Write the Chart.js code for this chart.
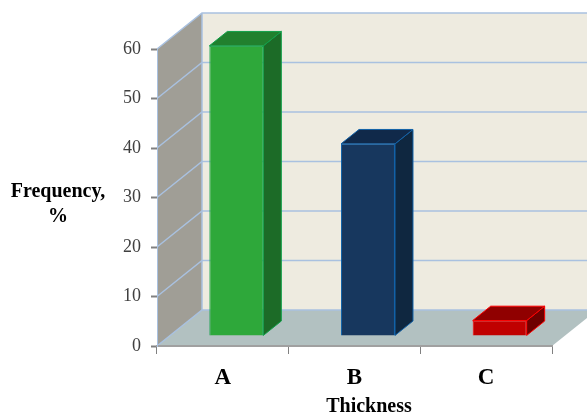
<!DOCTYPE html>
<html>
<head>
<meta charset="utf-8">
<title>Thickness frequency</title>
<script src="https://cdn.jsdelivr.net/npm/chart.js@4/dist/chart.umd.min.js"></script>
<style>
  html, body { margin: 0; padding: 0; background: #fff; }
  #wrap { width: 587px; height: 414px; }
</style>
</head>
<body>
<div id="wrap"><canvas id="gr1" width="587" height="414"></canvas></div>
<script>
const categories = ["A", "B", "C"];
const frequency = [58.6, 38.8, 3.1];
const yTicks = [0, 10, 20, 30, 40, 50, 60];
const xTitle = "Thickness";
const yTitleLines = ["Frequency,", "%"];

// colours per bar: front, top, side, edge
const barFront = ["#2EA83A", "#17375E", "#C00000"];
const barTop = ["#21802E", "#10294A", "#900000"];
const barSide = ["#1C6B27", "#0F2740", "#6E0000"];
const barEdge = ["#10A04A", "#1262A8", "#FF0000"];

// fake 3d: how far the back of the box goes, and where the bars sit in it
const depthX = 45, depthY = 36;
const barShiftX = depthX * 0.3, barShiftY = depthY * 0.28;
const barDepthX = depthX * 0.4, barDepthY = depthY * 0.4;

const gridBlue = "#A9C1E0";

function poly(ctx, pts, fill, stroke) {
  ctx.beginPath();
  pts.forEach((p, i) => i ? ctx.lineTo(p[0], p[1]) : ctx.moveTo(p[0], p[1]));
  ctx.closePath();
  if (fill) { ctx.fillStyle = fill; ctx.fill(); }
  if (stroke) { ctx.strokeStyle = stroke; ctx.lineWidth = 1; ctx.stroke(); }
}

const box3d = {
  id: "box3d",
  beforeDraw(chart) {
    const ctx = chart.ctx, a = chart.chartArea, y = chart.scales.y;
    const l = a.left, r = a.right, t = y.getPixelForValue(60), b = y.getPixelForValue(0);
    ctx.save();
    // back wall, side wall, floor
    poly(ctx, [[l + depthX, t - depthY], [r + depthX, t - depthY], [r + depthX, b - depthY], [l + depthX, b - depthY]], "#EEEBE0");
    poly(ctx, [[l, t], [l + depthX, t - depthY], [l + depthX, b - depthY], [l, b]], "#A09E96");
    poly(ctx, [[l, b], [r, b], [r + depthX, b - depthY], [l + depthX, b - depthY]], "#B2C1C1");
    ctx.strokeStyle = gridBlue;
    ctx.lineWidth = 1.5;
    yTicks.forEach(v => {
      const py = y.getPixelForValue(v);
      ctx.beginPath();
      ctx.moveTo(l, py);
      ctx.lineTo(l + depthX, py - depthY);
      ctx.lineTo(r + depthX, py - depthY);
      ctx.stroke();
    });
    ctx.beginPath();
    ctx.moveTo(l + depthX, t - depthY);
    ctx.lineTo(l + depthX, b - depthY);
    ctx.stroke();
    ctx.restore();
  },
  beforeDatasetsDraw(chart) {
    chart.ctx.save();
    chart.ctx.translate(barShiftX, -barShiftY);
  },
  afterDatasetsDraw(chart) {
    const ctx = chart.ctx;
    chart.getDatasetMeta(0).data.forEach((bar, i) => {
      const x1 = bar.x - bar.width / 2, x2 = bar.x + bar.width / 2;
      const dx = barDepthX, dy = barDepthY;
      poly(ctx, [[x2, bar.y], [x2 + dx, bar.y - dy], [x2 + dx, bar.base - dy], [x2, bar.base]], barSide[i], barEdge[i]);
      poly(ctx, [[x1, bar.y], [x1 + dx, bar.y - dy], [x2 + dx, bar.y - dy], [x2, bar.y]], barTop[i], barEdge[i]);
    });
    ctx.restore();
  },
  afterDraw(chart) {
    const ctx = chart.ctx;
    ctx.save();
    ctx.fillStyle = "#000";
    ctx.font = "bold 20px 'Liberation Serif'";
    ctx.textAlign = "center";
    ctx.textBaseline = "alphabetic";
    yTitleLines.forEach((s, i) => ctx.fillText(s, 58, 197 + i * 25));
    ctx.fillText(xTitle, 369, 412);
    ctx.restore();
  }
};

new Chart(document.getElementById("gr1"), {
  type: "bar",
  data: {
    labels: categories,
    datasets: [{
      data: frequency,
      backgroundColor: barFront,
      borderColor: barEdge,
      borderWidth: 1,
      barPercentage: 0.41,
      categoryPercentage: 1,
      clip: false
    }]
  },
  options: {
    responsive: false,
    animation: false,
    layout: { padding: { left: 0, right: 35, top: 49, bottom: 0 } },
    plugins: { legend: { display: false }, tooltip: { enabled: false } },
    scales: {
      x: {
        afterFit: s => { s.height = 68; },
        grid: { drawOnChartArea: false, tickLength: 8, tickColor: "#808080", tickWidth: 1 },
        border: { color: "#A0A0A0", width: 2 },
        ticks: { color: "#000", padding: 10, font: { family: "Liberation Serif", size: 23, weight: "bold" } }
      },
      y: {
        min: 0,
        max: 60,
        afterFit: s => { s.width = 157; },
        afterBuildTicks: s => { s.ticks = yTicks.map(v => ({ value: v })); },
        grid: { drawOnChartArea: false, tickLength: 6, tickColor: "#808080", tickWidth: 2 },
        border: { color: gridBlue, width: 1 },
        ticks: { color: "#404040", padding: 10, font: { family: "Liberation Serif", size: 18 } }
      }
    }
  },
  plugins: [box3d]
});
</script>
</body>
</html>
